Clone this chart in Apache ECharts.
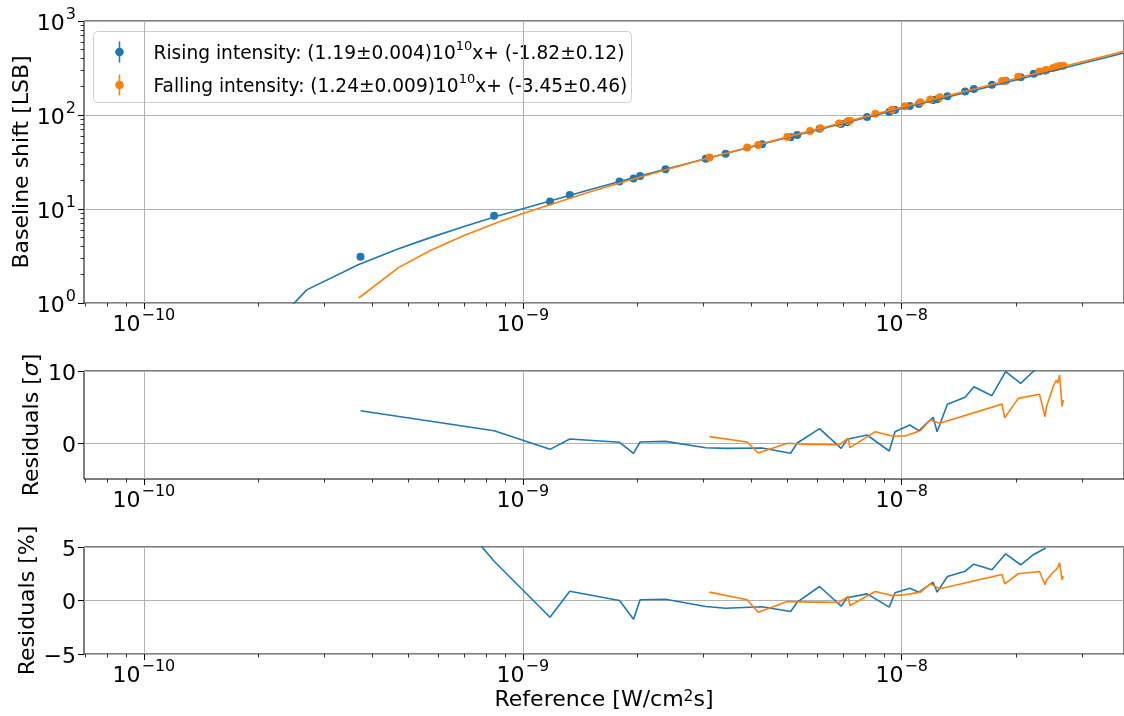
<!DOCTYPE html>
<html>
<head>
<meta charset="utf-8">
<script src="https://cdn.jsdelivr.net/npm/echarts@6/dist/echarts.min.js"></script>
<style>html,body{margin:0;padding:0;background:#fff;}#c{width:1124px;height:716px;}</style>
</head>
<body>
<div id="c"></div>
<script>
// ---------- data ----------
const riseX = [3.73e-10, 8.4e-10, 1.18e-9, 1.33e-9, 1.80e-9, 1.96e-9, 2.04e-9, 2.38e-9, 3.04e-9, 3.43e-9, 4.28e-9, 5.09e-9, 5.30e-9, 6.07e-9, 6.92e-9, 7.18e-9, 8.1e-9, 9.27e-9, 9.6e-9, 1.05e-8, 1.11e-8, 1.21e-8, 1.24e-8, 1.32e-8, 1.47e-8, 1.55e-8, 1.73e-8, 1.88e-8, 2.06e-8, 2.23e-8, 2.40e-8];
const riseY = [3.1, 8.48, 12.03, 14.13, 19.6, 21.12, 22.48, 26.53, 34.17, 38.72, 48.82, 58.15, 61.15, 71.33, 80.1, 83.83, 95.16, 107.82, 113.23, 124.55, 131.29, 144.6, 146.88, 158.74, 177.85, 188.82, 209.91, 231.57, 251.45, 274.88, 297.69];
const riseSigma = [4.49, 1.7, -0.88, 0.55, 0.1, -1.43, 0.14, 0.23, -0.65, -0.74, -0.69, -1.43, 0.0, 1.99, -0.74, 0.51, 1.11, -1.11, 1.57, 2.5, 1.71, 3.57, 1.57, 5.37, 6.34, 7.82, 6.57, 9.9, 8.29, 10.0, 11.3];
const risePct = [18.3, 3.67, -1.56, 0.87, 0.0, -1.75, 0.07, 0.12, -0.56, -0.72, -0.59, -1.03, -0.16, 1.31, -0.53, 0.25, 0.62, -0.62, 0.72, 1.15, 0.78, 1.71, 0.78, 2.24, 2.74, 3.39, 2.87, 4.36, 3.34, 4.3, 4.9];

const fallX = [3.11e-9, 3.91e-9, 4.18e-9, 4.99e-9, 5.73e-9, 6.10e-9, 6.83e-9, 7.22e-9, 7.30e-9, 8.52e-9, 9.42e-9, 1.02e-8, 1.12e-8, 1.19e-8, 1.26e-8, 1.84e-8, 1.87e-8, 2.03e-8, 2.31e-8, 2.39e-8, 2.41e-8, 2.51e-8, 2.56e-8, 2.58e-8, 2.61e-8, 2.65e-8, 2.67e-8];
const fallY = [35.38, 45.06, 47.85, 58.38, 67.5, 72.08, 81.09, 86.4, 86.66, 103.06, 113.89, 123.68, 136.49, 146.36, 154.46, 230.17, 232.0, 254.48, 290.66, 297.22, 301.0, 315.95, 323.1, 326.28, 331.46, 331.43, 335.07];
const fallSigma = [0.88, 0.14, -1.39, -0.04, -0.2, -0.2, -0.28, 0.69, -0.65, 1.57, 0.97, 0.97, 1.71, 3.19, 2.74, 5.4, 3.51, 6.2, 6.76, 3.65, 5.05, 7.82, 8.75, 8.29, 9.44, 5.05, 5.97];
const fallPct = [0.78, 0.07, -1.09, -0.09, -0.15, -0.15, -0.19, 0.37, -0.47, 0.84, 0.47, 0.53, 0.78, 1.56, 1.09, 2.43, 1.56, 2.5, 2.71, 1.47, 1.9, 2.65, 2.9, 3.1, 3.52, 1.93, 2.27];

const fitX    = [1.69e-10, 2.69e-10, 3.69e-10, 4.70e-10, 5.70e-10, 7.0e-10, 8.5e-10, 1.0e-9, 1.5e-9, 2.0e-9, 3.0e-9, 5.0e-9, 1.0e-8, 2.0e-8, 3.86e-8];
const riseFit = [0.19, 1.38, 2.57, 3.77, 4.96, 6.51, 8.30, 10.08, 16.03, 21.98, 33.88, 57.68, 117.18, 236.18, 457.5];
const fallFit = [null, null, 1.13, 2.38, 3.62, 5.23, 7.09, 8.95, 15.15, 21.35, 33.75, 58.55, 120.55, 244.55, 475.2];

const legendLabels = [
  'Rising intensity: (1.19±0.004)10{s|10}x+ (-1.82±0.12)',
  'Falling intensity: (1.24±0.009)10{s|10}x+ (-3.45±0.46)'
];
const xMajorTicks = [1e-10, 1e-9, 1e-8];
const yTopMajorTicks = [1, 10, 100, 1000];
const ySigmaTicks = [0, 10];
const yPctTicks = [-5, 0, 5];
const X_MIN = 6.95e-11, X_MAX = 3.86e-8;

// minor log ticks (2..9 x 10^n)
function minorLog(lo, hi) {
  const out = [];
  for (let e = Math.floor(Math.log10(lo)); e <= Math.ceil(Math.log10(hi)); e++) {
    for (let k = 2; k <= 9; k++) {
      const v = k * Math.pow(10, e);
      if (v >= lo && v <= hi) out.push(v);
    }
  }
  return out;
}
const xMinorTicks = minorLog(X_MIN, X_MAX);
const yTopMinorTicks = minorLog(1, 1000);

// ---------- styling ----------
const BLUE = '#1f77b4', ORANGE = '#ff7f0e';
const FONT = 'DejaVu Sans';
const GRIDC = '#b0b0b0';
const richPow = {
  b: { fontSize: 22, lineHeight: 28, verticalAlign: 'bottom', fontFamily: FONT, color: '#000' },
  s: { fontSize: 16, lineHeight: 15, verticalAlign: 'top', fontFamily: FONT, color: '#000', padding: [0, 0, 0, 1] }
};
function powFmt(v) {
  const e = Math.round(Math.log10(v));
  return '{b|10}{s|' + (e < 0 ? '\u2212' : '') + Math.abs(e) + '}';
}
function linFmt(v) {
  return '{b|' + (v < 0 ? '\u2212' + Math.abs(v) : v) + '}';
}

const grids = [
  { left: 84, top: 21, width: 1042, height: 282 },
  { left: 84, top: 371, width: 1042, height: 108 },
  { left: 84, top: 547, width: 1042, height: 107 }
].map(g => Object.assign(g, { show: true, borderColor: '#000', borderWidth: 1, backgroundColor: 'transparent' }));

const xAxes = [];
for (let g = 0; g < 3; g++) {
  const base = { type: 'log', logBase: 10, gridIndex: g, min: X_MIN, max: X_MAX, position: 'bottom',
    axisLine: { show: false, onZero: false } };
  xAxes.push(Object.assign({}, base, {
    axisTick: { show: true, length: 6, customValues: xMajorTicks, lineStyle: { color: '#000', width: 1 } },
    axisLabel: { show: true, customValues: xMajorTicks, formatter: powFmt, rich: richPow, margin: 5 },
    splitLine: { show: true, lineStyle: { color: GRIDC, width: 1 } },
    name: g === 2 ? 'Reference [W/cm{s|2}s]' : '',
    nameLocation: 'middle', nameGap: 35, nameMoveOverlap: false,
    nameTextStyle: { fontSize: 22, fontFamily: FONT, color: '#000', rich: {
      s: { fontSize: 15.5, verticalAlign: 'top', lineHeight: 15, fontFamily: FONT, color: '#000' } } }
  }));
  xAxes.push(Object.assign({}, base, {
    axisTick: { show: true, length: 3.5, customValues: xMinorTicks, lineStyle: { color: '#000', width: 0.8 } },
    axisLabel: { show: false },
    splitLine: { show: false }
  }));
}

const yAxes = [
  { type: 'log', logBase: 10, gridIndex: 0, min: 1, max: 1000, position: 'left', axisLine: { show: false, onZero: false },
    axisTick: { show: true, length: 6, customValues: yTopMajorTicks, lineStyle: { color: '#000', width: 1 } },
    axisLabel: { customValues: yTopMajorTicks, formatter: powFmt, rich: richPow, margin: 8 },
    splitLine: { show: true, lineStyle: { color: GRIDC, width: 1 } },
    name: 'Baseline shift [LSB]', nameLocation: 'middle', nameGap: 51, nameMoveOverlap: false,
    nameTextStyle: { fontSize: 22, fontFamily: FONT, color: '#000' } },
  { type: 'log', logBase: 10, gridIndex: 0, min: 1, max: 1000, position: 'left', axisLine: { show: false, onZero: false },
    axisTick: { show: true, length: 3.5, customValues: yTopMinorTicks, lineStyle: { color: '#000', width: 0.8 } },
    axisLabel: { show: false }, splitLine: { show: false } },
  { type: 'value', gridIndex: 1, min: -5, max: 10, position: 'left', axisLine: { show: false, onZero: false },
    axisTick: { show: true, length: 6, customValues: ySigmaTicks, lineStyle: { color: '#000', width: 1 } },
    axisLabel: { customValues: ySigmaTicks, formatter: linFmt, rich: richPow, margin: 8 },
    splitLine: { show: true, lineStyle: { color: GRIDC, width: 1 } },
    name: 'Residuals [{i|σ}]', nameLocation: 'middle', nameGap: 41, nameMoveOverlap: false,
    nameTextStyle: { fontSize: 22, fontFamily: FONT, color: '#000', rich: {
      i: { fontSize: 22, fontStyle: 'italic', fontFamily: FONT, color: '#000' } } } },
  { type: 'value', gridIndex: 2, min: -5, max: 5, position: 'left', axisLine: { show: false, onZero: false },
    axisTick: { show: true, length: 6, customValues: yPctTicks, lineStyle: { color: '#000', width: 1 } },
    axisLabel: { customValues: yPctTicks, formatter: linFmt, rich: richPow, margin: 8 },
    splitLine: { show: true, lineStyle: { color: GRIDC, width: 1 } },
    name: 'Residuals [%]', nameLocation: 'middle', nameGap: 45, nameMoveOverlap: false,
    nameTextStyle: { fontSize: 22, fontFamily: FONT, color: '#000' } }
];

function pairs(xs, ys) {
  const out = [];
  xs.forEach((x, i) => { if (ys[i] !== null && ys[i] !== undefined) out.push([x, ys[i]]); });
  return out;
}
function lineS(name, color, xi, yi, data, z) {
  return { name, type: 'line', xAxisIndex: xi, yAxisIndex: yi, data, showSymbol: false, symbol: 'none',
    lineStyle: { color, width: 1.6 }, z, clip: true, animation: false };
}

const series = [
  { type: 'scatter', name: 'rise', xAxisIndex: 0, yAxisIndex: 0, data: pairs(riseX, riseY), symbolSize: 8,
    itemStyle: { color: BLUE, opacity: 1 }, z: 2 },
  { type: 'scatter', name: 'fall', xAxisIndex: 0, yAxisIndex: 0, data: pairs(fallX, fallY), symbolSize: 8,
    itemStyle: { color: ORANGE, opacity: 1 }, z: 3 },
  lineS('riseFit', BLUE, 0, 0, pairs(fitX, riseFit), 4),
  lineS('fallFit', ORANGE, 0, 0, pairs(fitX, fallFit), 5),
  lineS('riseSigma', BLUE, 2, 2, pairs(riseX, riseSigma), 4),
  lineS('fallSigma', ORANGE, 2, 2, pairs(fallX, fallSigma), 5),
  lineS('risePct', BLUE, 4, 3, pairs(riseX, risePct), 4),
  lineS('fallPct', ORANGE, 4, 3, pairs(fallX, fallPct), 5)
];

const legendRich = {
  n: { fontSize: 18.6, lineHeight: 24, verticalAlign: 'bottom', fontFamily: FONT, color: '#000' },
  s: { fontSize: 13, lineHeight: 13, verticalAlign: 'top', fontFamily: FONT, color: '#000' }
};
function legendText(t) {
  return t.split(/(\{s\|[^}]*\})/).map(p => p.startsWith('{s|') ? p : (p ? '{n|' + p + '}' : '')).join('');
}
const legendColors = [BLUE, ORANGE];
const legendChildren = [
  { type: 'rect', shape: { x: 0, y: 0, width: 538, height: 71, r: 4 },
    style: { fill: 'rgba(255,255,255,0.85)', stroke: '#d0d0d0', lineWidth: 1 } }
];
legendLabels.forEach((lab, i) => {
  const cy = 20.5 + i * 33;
  legendChildren.push({ type: 'line', shape: { x1: 26, y1: cy - 10.5, x2: 26, y2: cy + 10.5 },
    style: { stroke: legendColors[i], lineWidth: 1.5 } });
  legendChildren.push({ type: 'circle', shape: { cx: 26, cy: cy, r: 4.3 }, style: { fill: legendColors[i] } });
  legendChildren.push({ type: 'text', x: 60, y: cy,
    style: { text: legendText(lab), rich: legendRich, verticalAlign: 'middle', align: 'left',
      fontSize: 18.6, fontFamily: FONT, fill: '#000' } });
});

const chart = echarts.init(document.getElementById('c'), null, { renderer: 'canvas' });
chart.setOption({
  animation: false,
  backgroundColor: '#fff',
  textStyle: { fontFamily: FONT },
  grid: grids,
  xAxis: xAxes,
  yAxis: yAxes,
  series: series,
  graphic: [{ type: 'group', left: 93, top: 31, z: 100, children: legendChildren }]
});
</script>
</body>
</html>
